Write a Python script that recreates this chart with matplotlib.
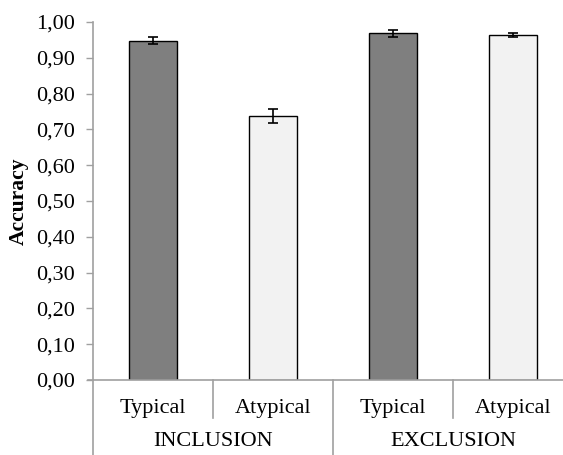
import numpy as np
import matplotlib
matplotlib.use("Agg")
import matplotlib.pyplot as plt
import matplotlib.transforms as mtransforms

# data
conditions = ["Typical", "Atypical", "Typical", "Atypical"]
groups = ["INCLUSION", "EXCLUSION"]
accuracy = [0.948, 0.738, 0.968, 0.963]
errors = [0.009, 0.019, 0.011, 0.006]
bar_colors = ["#7f7f7f", "#f2f2f2", "#7f7f7f", "#f2f2f2"]
yticks = np.arange(0, 1.01, 0.1)

plt.rcParams["font.family"] = ["Liberation Serif", "DejaVu Serif"]
axis_gray = "#a0a0a0"
fs = 16

fig = plt.figure(figsize=(5.63, 4.55), dpi=100)
W, H = 563, 455
ax = fig.add_axes([93 / W, 75 / H, 480 / W, 358 / H])

x = np.arange(len(accuracy))
ax.bar(x, accuracy, width=0.4, color=bar_colors, edgecolor="black", linewidth=1.0, zorder=2)
ax.errorbar(x, accuracy, yerr=errors, fmt="none", ecolor="black", elinewidth=1.2,
            capsize=3.3, capthick=1.2, zorder=3)

ax.set_xlim(-0.5, 3.5)
ax.set_ylim(0, 1.0)
ax.set_yticks(yticks)
ax.set_yticklabels([f"{v:.2f}".replace(".", ",") for v in yticks], fontsize=fs)
ax.tick_params(axis="y", length=5, width=1, color=axis_gray, pad=8)
ax.set_xticks([])
ax.set_ylabel("Accuracy", fontsize=15.5, fontweight="bold")
ax.yaxis.set_label_coords((29 - 93) / 480, 0.5)

for s in ["top", "right"]:
    ax.spines[s].set_visible(False)
for s in ["left", "bottom"]:
    ax.spines[s].set_color(axis_gray)
    ax.spines[s].set_linewidth(1.2)

# category labels and dividers below axis
trans = mtransforms.blended_transform_factory(ax.transData, fig.transFigure)
for i, lab in enumerate(conditions):
    ax.text(i, 1 - 408 / H, lab, transform=trans, ha="center", va="center", fontsize=fs)
for gi, g in enumerate(groups):
    ax.text(gi * 2 + 0.5, 1 - 442 / H, g, transform=trans, ha="center", va="center", fontsize=fs)

y_axis = 1 - 380 / H
for xd in [0.5, 2.5]:
    ax.plot([xd, xd], [y_axis, 1 - 418 / H], transform=trans, color=axis_gray,
            linewidth=1.2, clip_on=False)
for xd in [-0.5, 1.5, 3.5]:
    ax.plot([xd, xd], [y_axis, 0], transform=trans, color=axis_gray,
            linewidth=1.2, clip_on=False)
# extend baseline left to the tick
ax.plot([-0.5 - 5 / 120, -0.5], [y_axis, y_axis], transform=trans, color=axis_gray,
        linewidth=1.2, clip_on=False)

fig.savefig("out.png", dpi=100)
